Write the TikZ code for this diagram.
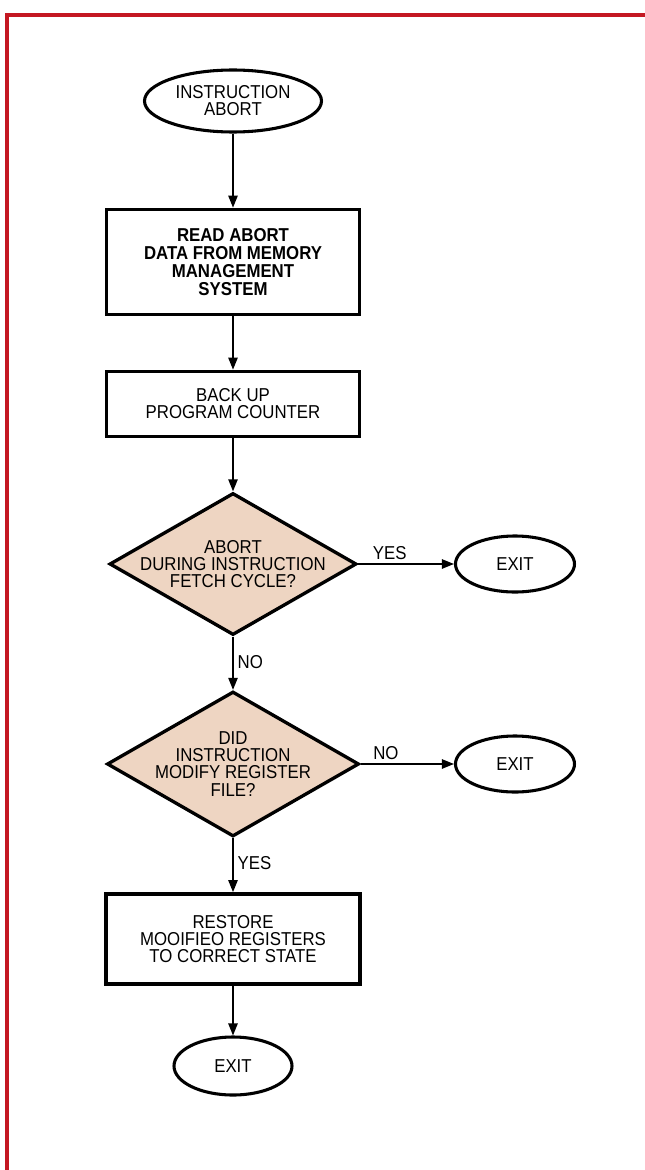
\documentclass[tikz,border=0pt]{standalone}
\usepackage{fontspec}
\setmainfont{Liberation Sans}[FakeStretch=0.9]
\usetikzlibrary{shapes.geometric,arrows.meta,positioning}
\definecolor{abortred}{RGB}{196,24,34}
\definecolor{decisiontan}{RGB}{238,213,194}
\tikzset{
  every node/.style={
    font=\fontsize{14}{12.8}\selectfont
  },
  terminal/.style={
    shape = ellipse,
    draw,
    line width = 2.3pt,
    inner sep = 0pt,
    align = center
  },
  process/.style={
    shape = rectangle,
    draw,
    line width = 2.8pt,
    inner sep = 0pt,
    align = center
  },
  decision/.style={
    shape = diamond,
    aspect = 1.75,
    draw,
    fill = decisiontan,
    line width = 2.5pt,
    inner sep = -5pt,
    align = center
  },
  flow/.style={
    line width = 1.1pt,
    -{Triangle[length=9pt,width=7pt]}
  },
  branch/.style={
    inner sep = 3pt
  }
}
\begin{document}
\begin{tikzpicture}[x=0.75pt,y=-0.75pt]
    \def\u{0.75pt}
    \useasboundingbox (0,0) rectangle (644,1170);
    \draw[abortred, line width=3pt] (7,1180) -- (7,15) -- (650,15);
        % main column
        \node[terminal, minimum width=177*\u, minimum height=62*\u] (start) at (233,101) {INSTRUCTION\\ABORT};
        \node[process, minimum width=253*\u, minimum height=105*\u, font=\fontsize{14}{13.5}\selectfont\bfseries] (read) at (233,262) {READ ABORT\\DATA FROM MEMORY\\MANAGEMENT\\SYSTEM};
        \node[process, minimum width=253*\u, minimum height=65*\u] (backup) at (233,404) {BACK UP\\PROGRAM COUNTER};
        \node[decision, minimum width=247*\u, minimum height=142*\u] (fetch) at (233,564) {ABORT\\DURING INSTRUCTION\\FETCH CYCLE?};
        \node[decision, minimum width=252*\u, minimum height=145*\u] (modify) at (233,764) {DID\\INSTRUCTION\\MODIFY REGISTER\\FILE?};
        \node[process, minimum width=254*\u, minimum height=90*\u] (restore) at (233,939) {RESTORE\\MOOIFIEO REGISTERS\\TO CORRECT STATE};
        \node[terminal, minimum width=118*\u, minimum height=58*\u] (exitC) at (233,1066) {EXIT};
        % side exits
        \node[terminal, minimum width=119*\u, minimum height=56*\u] (exitA) at (515,564) {EXIT};
        \node[terminal, minimum width=119*\u, minimum height=56*\u] (exitB) at (515,764) {EXIT};
        \draw[flow] (start) -- (read);
        \draw[flow] (read) -- (backup);
        \draw[flow] (backup) -- (fetch);
        \draw[flow] (fetch) -- node[branch, above, pos=0.33] {YES} (exitA);
        \draw[flow] (fetch) -- node[branch, right, pos=0.47] {NO} (modify);
        \draw[flow] (modify) -- node[branch, above, pos=0.27] {NO} (exitB);
        \draw[flow] (modify) -- node[branch, right, pos=0.47] {YES} (restore);
        \draw[flow] (restore) -- (exitC);
\end{tikzpicture}
\end{document}
